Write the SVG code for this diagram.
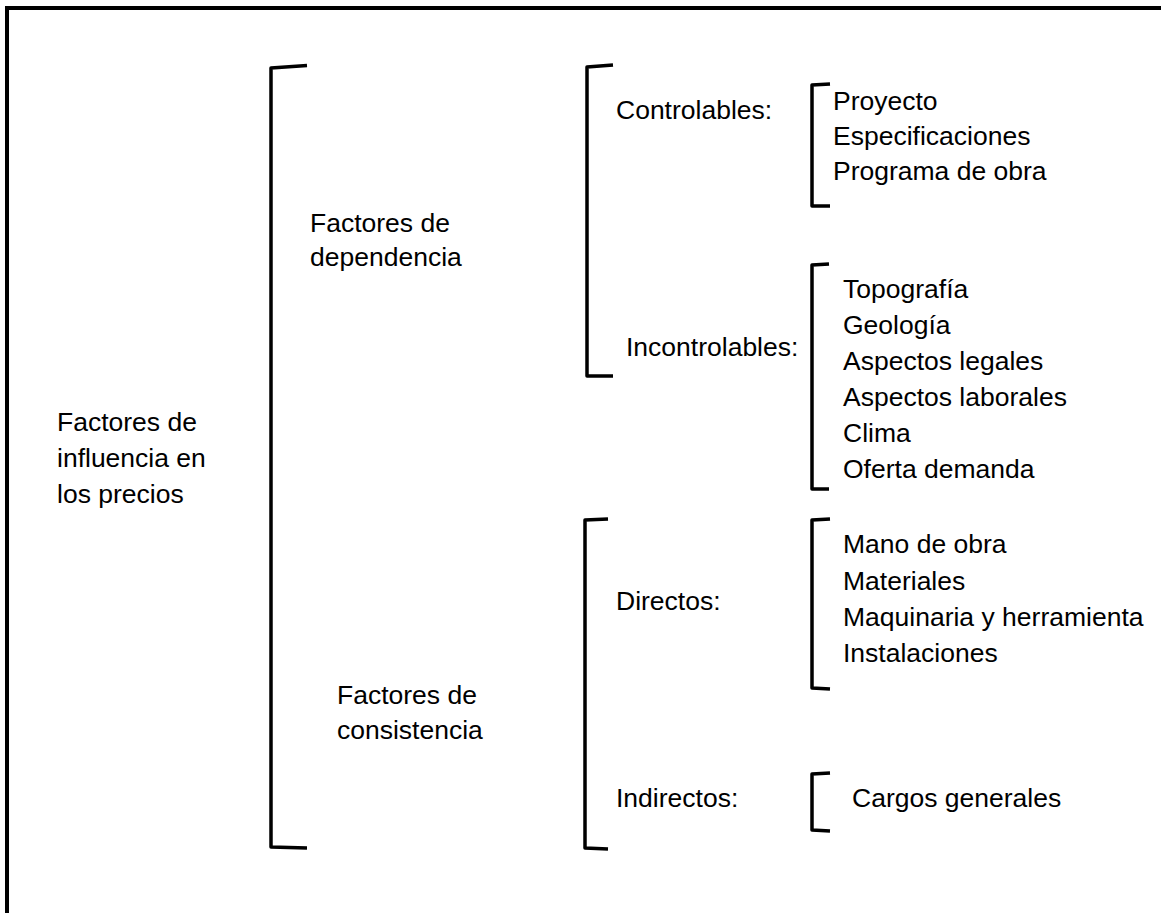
<svg xmlns="http://www.w3.org/2000/svg" width="1161" height="913" viewBox="0 0 1161 913">
<style>
.t{font-family:"Liberation Sans",Arial,sans-serif;font-size:26.5px;fill:#000}
.br{fill:none;stroke:#000;stroke-width:3.5;stroke-linejoin:round;stroke-linecap:butt}
.frame{fill:none;stroke:#000;stroke-width:4}
</style>
<rect width="1161" height="913" fill="#fff"/>
<path class="frame" d="M7,913 V8 H1161"/>
<g id="connectors">
<path class="br" d="M307,65.5 L271,68 V847 L307,848"/>
<path class="br" d="M613,65 L587,67 V376 L613,376"/>
<path class="br" d="M830,84 L812,85 V206 L830,206"/>
<path class="br" d="M829,264 L812,265 V489 L829,489"/>
<path class="br" d="M608,519 L585,520 V848 L608,849"/>
<path class="br" d="M830,519 L812,520 V688 L830,689"/>
<path class="br" d="M830,773 L812,774 V830 L830,831"/>
</g>
<g id="root"><text class="t" x="57" y="431">Factores de</text><text class="t" x="57" y="467">influencia en</text><text class="t" x="57" y="503">los precios</text></g>
<g id="dependencia"><text class="t" x="310" y="232">Factores de</text><text class="t" x="310" y="266">dependencia</text></g>
<g id="consistencia"><text class="t" x="337" y="704">Factores de</text><text class="t" x="337" y="739">consistencia</text></g>
<g id="controlables"><text class="t" x="616" y="119">Controlables:</text></g>
<g id="incontrolables"><text class="t" x="626" y="356">Incontrolables:</text></g>
<g id="directos"><text class="t" x="616" y="610">Directos:</text></g>
<g id="indirectos"><text class="t" x="616" y="807">Indirectos:</text></g>
<g id="items-controlables">
<text class="t" x="833" y="110">Proyecto</text>
<text class="t" x="833" y="145">Especificaciones</text>
<text class="t" x="833" y="180">Programa de obra</text>
</g>
<g id="items-incontrolables">
<text class="t" x="843" y="298">Topografía</text>
<text class="t" x="843" y="334">Geología</text>
<text class="t" x="843" y="370">Aspectos legales</text>
<text class="t" x="843" y="406">Aspectos laborales</text>
<text class="t" x="843" y="442">Clima</text>
<text class="t" x="843" y="478">Oferta demanda</text>
</g>
<g id="items-directos">
<text class="t" x="843" y="553">Mano de obra</text>
<text class="t" x="843" y="590">Materiales</text>
<text class="t" x="843" y="626">Maquinaria y herramienta</text>
<text class="t" x="843" y="662">Instalaciones</text>
</g>
<g id="items-indirectos">
<text class="t" x="852" y="807">Cargos generales</text>
</g>
</svg>
